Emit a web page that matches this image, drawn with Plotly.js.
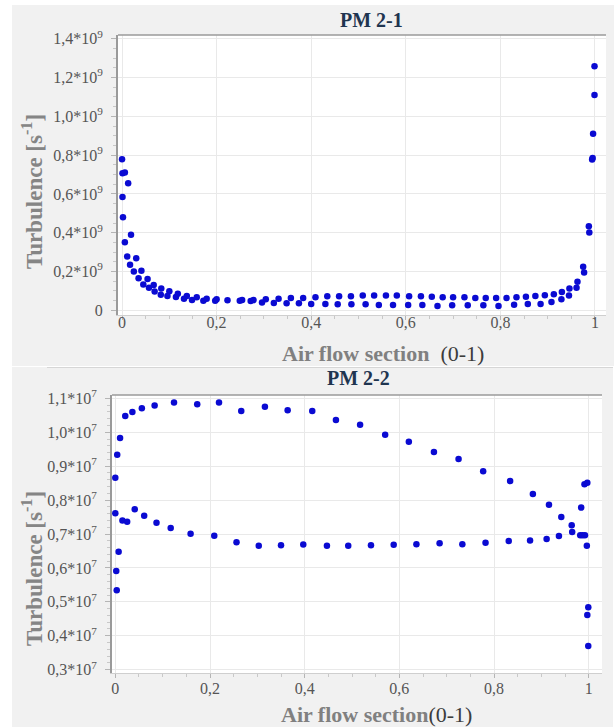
<!DOCTYPE html>
<html>
<head>
<meta charset="utf-8">
<script src="https://cdn.plot.ly/plotly-3.0.1.min.js"></script>
<style>
  html, body { margin:0; padding:0; background:#ffffff; }
  body { width:616px; height:727px; position:relative; overflow:hidden; }
  #top { position:absolute; left:12px; top:5px; width:602px; height:361px; }
  #bot { position:absolute; left:12px; top:367px; width:601px; height:360px; }
</style>
</head>
<body>
<div id="top"></div>
<div id="bot"></div>
<script>
// ---------- DATA ----------
// PM 2-1 : turbulence in units of 10^9 s^-1
const pm21X = [
  0.000,0.001,0.006,0.013,0.001,0.002,0.019,0.006,0.011,0.030,
  0.017,0.025,0.041,0.035,0.054,0.045,0.057,0.067,0.069,0.083,
  0.082,0.100,0.096,0.114,0.118,0.131,0.137,0.148,0.158,0.172,
  0.179,0.197,0.200,0.223,0.249,0.254,0.272,0.278,0.296,0.304,
  0.321,0.331,0.348,0.357,0.374,0.383,0.400,0.409,0.430,0.434,
  0.456,0.459,0.485,0.484,0.509,0.515,0.533,0.543,0.558,0.573,
  0.581,0.605,0.607,0.632,0.635,0.655,0.667,0.678,0.698,0.700,
  0.724,0.731,0.747,0.764,0.769,0.791,0.796,0.813,0.829,0.834,
  0.854,0.858,0.874,0.885,0.894,0.908,0.913,0.929,0.930,0.945,
  0.946,0.961,0.963,0.975,0.977,0.987,0.988,0.994,0.995,0.996,
  0.999,0.999
];
const pm21Y = [
  0.779,0.707,0.710,0.655,0.584,0.480,0.390,0.351,0.278,0.268,
  0.235,0.200,0.204,0.166,0.162,0.133,0.116,0.130,0.097,0.112,
  0.081,0.098,0.074,0.069,0.085,0.060,0.074,0.053,0.067,0.050,
  0.060,0.050,0.057,0.052,0.050,0.053,0.048,0.053,0.041,0.057,
  0.038,0.060,0.036,0.064,0.036,0.064,0.033,0.067,0.033,0.073,
  0.031,0.073,0.031,0.073,0.076,0.031,0.076,0.027,0.076,0.027,
  0.076,0.027,0.073,0.072,0.028,0.070,0.022,0.067,0.026,0.067,
  0.067,0.026,0.064,0.026,0.064,0.064,0.022,0.064,0.029,0.067,
  0.070,0.033,0.074,0.033,0.078,0.043,0.083,0.057,0.095,0.076,
  0.112,0.116,0.147,0.225,0.195,0.433,0.401,0.778,0.785,0.910,
  1.110,1.258
];

// PM 2-2 : turbulence in units of 10^7 s^-1
const pm22X = [
  0.000,0.004,0.010,0.021,0.036,0.056,0.083,0.124,0.173,0.219,
  0.266,0.316,0.364,0.416,0.466,0.517,0.570,0.620,0.673,0.725,
  0.777,0.834,0.882,0.916,0.942,0.964,0.984,0.991,0.997,
  0.000,0.015,0.025,0.041,0.061,0.087,0.117,0.159,0.209,0.256,
  0.303,0.350,0.397,0.447,0.492,0.540,0.588,0.636,0.685,0.733,
  0.782,0.831,0.876,0.911,0.937,0.965,0.982,0.987,0.992,0.996,
  0.007,0.002,0.003,0.999,0.997,0.999
];
const pm22Y = [
  0.866,0.934,0.983,1.048,1.060,1.071,1.079,1.088,1.083,1.088,
  1.063,1.075,1.065,1.063,1.036,1.022,0.993,0.972,0.942,0.921,
  0.885,0.856,0.818,0.786,0.750,0.726,0.778,0.847,0.851,
  0.761,0.740,0.736,0.773,0.754,0.733,0.718,0.701,0.695,0.676,
  0.665,0.667,0.669,0.665,0.665,0.667,0.668,0.670,0.673,0.670,
  0.674,0.679,0.681,0.685,0.694,0.706,0.696,0.696,0.696,0.665,
  0.648,0.591,0.534,0.484,0.461,0.370
];

// tick labels
const xTickVals = [0,0.2,0.4,0.6,0.8,1];
const xTickText = ['0','0,2','0,4','0,6','0,8','1'];
const y21TickVals = [0,0.2,0.4,0.6,0.8,1.0,1.2,1.4];
const y21TickText = ['0','0,2*10<sup>9</sup>','0,4*10<sup>9</sup>','0,6*10<sup>9</sup>','0,8*10<sup>9</sup>','1,0*10<sup>9</sup>','1,2*10<sup>9</sup>','1,4*10<sup>9</sup>'];
const y22TickVals = [0.3,0.4,0.5,0.6,0.7,0.8,0.9,1.0,1.1];
const y22TickText = ['0,3*10<sup>7</sup>','0,4*10<sup>7</sup>','0,5*10<sup>7</sup>','0,6*10<sup>7</sup>','0,7*10<sup>7</sup>','0,8*10<sup>7</sup>','0,9*10<sup>7</sup>','1,0*10<sup>7</sup>','1,1*10<sup>7</sup>'];

// ---------- STYLE ----------
const SERIF = 'Liberation Serif, Times New Roman, serif';
const MARK = {color:'#0a0ad2', size:6.5};
const TICKFONT = {family:SERIF, size:16, color:'#555555'};

function makeFig(divId, W, H, m, xs, ys, xr, yr, yVals, yText, yMinor, titleTxt, titlePos, yTitlePos, xTitleTxt, xTitlePos, xStand, extraShapes) {
  const pw = W - m.l - m.r, ph = H - m.t - m.b;
  const fx = px => (px - m.l) / pw;
  const fy = py => 1 - (py - m.t) / ph;
  const trace = {type:'scatter', mode:'markers', x:xs, y:ys, marker:MARK, hoverinfo:'x+y'};
  const layout = {
    width:W, height:H, margin:m,
    paper_bgcolor:'#f1f1f1', plot_bgcolor:'#ffffff',
    showlegend:false,
    font:{family:SERIF},
    xaxis:{
      range:xr, tickvals:xTickVals, ticktext:xTickText, tickfont:TICKFONT,
      showgrid:true, gridcolor:'#e9e9e9', gridwidth:1, zeroline:false,
      showline:true, linecolor:'#cfcfcf', linewidth:1,
      ticks:'outside', ticklen:4, tickcolor:'#b5b5b5', ticklabelstandoff:xStand,
      minor:{dtick:0.05, ticks:'outside', ticklen:3, tickcolor:'#c8c8c8', showgrid:false}
    },
    yaxis:{
      range:yr, tickvals:yVals, ticktext:yText, tickfont:TICKFONT,
      showgrid:true, gridcolor:'#e9e9e9', gridwidth:1, zeroline:false,
      showline:true, linecolor:'#9a9a9a', linewidth:2,
      ticks:'outside', ticklen:5, tickcolor:'#b5b5b5', ticklabelstandoff:5,
      minor:{dtick:yMinor, ticks:'outside', ticklen:3, tickcolor:'#c8c8c8', showgrid:false}
    },
    shapes:[
      {type:'line', xref:'paper', yref:'paper', x0:0, x1:1, y0:1, y1:1, line:{color:'#9a9a9a', width:1.5}}
    ].concat(extraShapes ? extraShapes(fx, fy) : []),
    annotations:[
      {text:'<b>'+titleTxt+'</b>', xref:'paper', yref:'paper', x:fx(titlePos[0]), y:fy(titlePos[1]),
       xanchor:'center', yanchor:'middle', showarrow:false, font:{family:SERIF, size:20, color:'#1f3550'}},
      {text:'<b>Turbulence [s<sup>-1</sup>]</b>', xref:'paper', yref:'paper', x:fx(yTitlePos[0]), y:fy(yTitlePos[1]),
       xanchor:'center', yanchor:'middle', textangle:-90, showarrow:false, font:{family:SERIF, size:23, color:'#858585'}},
      {text:xTitleTxt, xref:'paper', yref:'paper', x:fx(xTitlePos[0]), y:fy(xTitlePos[1]),
       xanchor:'center', yanchor:'middle', showarrow:false, font:{family:SERIF, size:22, color:'#808080'}}
    ]
  };
  Plotly.newPlot(divId, [trace], layout, {displayModeBar:false, staticPlot:true});
}

// top figure: div at (12,5), 602x361
makeFig('top', 602, 361, {l:106, r:8, t:30, b:51},
  pm21X, pm21Y, [-0.0085, 1.0233], [-0.024, 1.419],
  y21TickVals, y21TickText, 0.05,
  'PM 2-1', [359, 15], [20, 187],
  '<b>Air flow section</b>  <span style="color:#3c3c3c">(0-1)</span>', [371, 348], -11, null);

// bottom figure: div at (12,367), 601x360
makeFig('bot', 601, 360, {l:100, r:11, t:28, b:54},
  pm22X, pm22Y, [-0.007, 1.028], [0.290, 1.110],
  y22TickVals, y22TickText, 0.02,
  'PM 2-2', [346, 11], [20, 202],
  '<b>Air flow section</b><span style="color:#3c3c3c">(0-1)</span>', [364, 347], -3,
  (fx, fy) => [{type:'line', xref:'paper', yref:'paper', x0:fx(35), x1:fx(601), y0:fy(0.5), y1:fy(0.5), line:{color:'#d6d6d6', width:1}}]);
</script>
</body>
</html>
